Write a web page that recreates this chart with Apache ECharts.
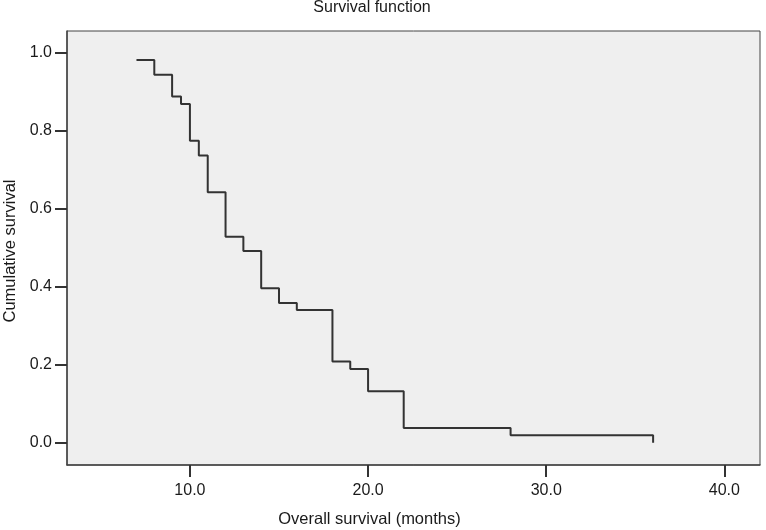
<!DOCTYPE html>
<html>
<head>
<meta charset="utf-8">
<script src="https://cdn.jsdelivr.net/npm/echarts@6/dist/echarts.min.js"></script>
<style>html,body{margin:0;padding:0;background:#fff;}#c{width:766px;height:530px;}</style>
</head>
<body>
<div id="c"></div>
<script>
// Kaplan-Meier step points (time in months, cumulative survival)
var months = [7, 8, 9, 9.5, 10, 10.5, 11, 12, 13, 14, 15, 16, 18, 19, 20, 22, 28, 36];
var survival = [0.981, 0.943, 0.887, 0.868, 0.774, 0.736, 0.642, 0.528, 0.491, 0.396, 0.358, 0.340, 0.208, 0.189, 0.132, 0.038, 0.019, 0.0];
var xTicks = [10, 20, 30, 40];
var yTicks = [0.0, 0.2, 0.4, 0.6, 0.8, 1.0];

var data = months.map(function (m, i) { return [m, survival[i]]; });
var font = 'Liberation Sans, Arial, sans-serif';

var chart = echarts.init(document.getElementById('c'), null, { renderer: 'canvas' });
chart.setOption({
  animation: false,
  backgroundColor: '#ffffff',
  title: {
    text: 'Survival function',
    left: 372, top: 0, textAlign: 'center',
    padding: 0,
    textStyle: { fontFamily: font, fontSize: 16, fontWeight: 'normal', color: '#1a1a1a' }
  },
  grid: {
    left: 67, top: 31, right: 6, bottom: 65,
    outerBoundsMode: 'none', containLabel: false,
    show: true, backgroundColor: '#efefef', borderColor: '#444', borderWidth: 1
  },
  xAxis: {
    type: 'value', min: 3.1, max: 42,
    name: 'Overall survival (months)', nameLocation: 'middle', nameGap: 46,
    nameTextStyle: { fontFamily: font, fontSize: 16.5, color: '#1a1a1a', padding: [0, 88, 0, 0] },
    axisLine: { show: true, onZero: false, lineStyle: { color: '#444', width: 1.5 } },
    axisTick: { show: true, length: 12, lineStyle: { color: '#333', width: 2 }, customValues: xTicks },
    axisLabel: {
      fontFamily: font, fontSize: 16, color: '#1a1a1a', margin: 18,
      customValues: xTicks,
      formatter: function (v) { return v.toFixed(1); }
    },
    splitLine: { show: false }
  },
  yAxis: {
    type: 'value', min: -0.057, max: 1.055,
    name: 'Cumulative survival', nameLocation: 'middle', nameGap: 48, nameRotate: 90,
    nameTextStyle: { fontFamily: font, fontSize: 16.5, color: '#1a1a1a', padding: [0, 6, 0, 0] },
    axisLine: { show: true, onZero: false, lineStyle: { color: '#444', width: 1.5 } },
    axisTick: { show: true, length: 12, lineStyle: { color: '#333', width: 2 }, customValues: yTicks },
    axisLabel: {
      fontFamily: font, fontSize: 16, color: '#1a1a1a', margin: 15,
      customValues: yTicks,
      formatter: function (v) { return v.toFixed(1); }
    },
    splitLine: { show: false }
  },
  series: [{
    type: 'line',
    step: 'end',
    data: data,
    showSymbol: false,
    symbol: 'none',
    lineStyle: { color: '#333', width: 2 }
  }]
});
</script>
</body>
</html>
